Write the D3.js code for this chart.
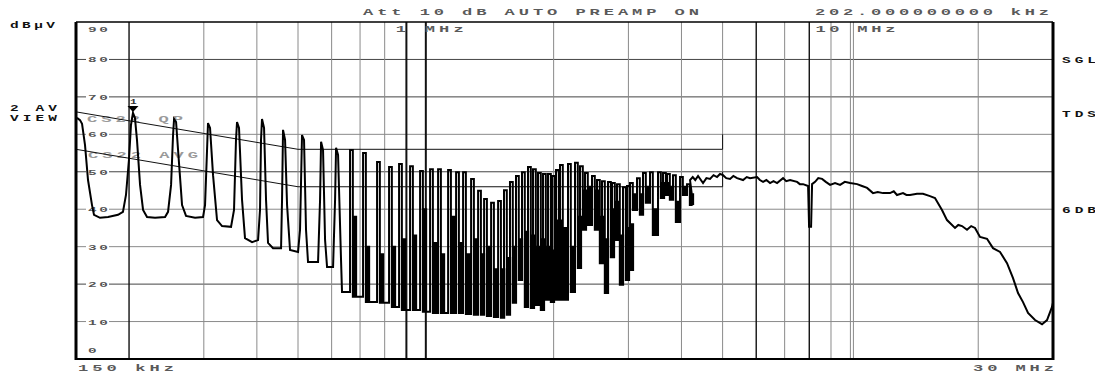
<!DOCTYPE html>
<html>
<head>
<meta charset="utf-8">
<script src="https://cdn.jsdelivr.net/npm/d3@7"></script>
<style>
  html, body { margin: 0; padding: 0; background: #fff; }
  svg { display: block; }
</style>
</head>
<body>
<svg id="chart"></svg>
<script>
'use strict';

// ── Data ──────────────────────────────────────────────────
const yTicks = [0, 10, 20, 30, 40, 50, 60, 70, 80, 90];
const xGrid  = [0.2, 0.3, 0.4, 0.5, 0.6, 0.7, 0.8, 0.9, 1, 2, 3, 4, 5, 6, 7, 8, 9, 10, 20];
const xDark  = [0.2, 0.9, 1, 6, 8];
const yDark  = [80, 70, 50, 20];

// CISPR 22 limit lines (MHz / dBµV)
const qpFreq   = [0.15, 0.5, 5, 5];
const qpLevel  = [66, 56, 56, 60];
const avgFreq  = [0.15, 0.5, 5, 5];
const avgLevel = [56, 46, 46, 50];

// trace, low band: [MHz, dBµV]
const lowTrace = [
  [0.1508,64.4],[0.1533,63.8],[0.1550,62.8],[0.1575,57.2],[0.1601,47.8],[0.1636,41.1],[0.1654,38.5],
  [0.1709,37.7],[0.1785,37.9],[0.1884,38.5],[0.1935,39.3],[0.1967,43.8],[0.1999,53.2],[0.2021,62.5],
  [0.2043,65.7],[0.2065,64.4],[0.2088,58.5],[0.2123,46.5],[0.2158,39.8],[0.2205,37.9],[0.2303,37.7],
  [0.2431,37.9],[0.2471,39.3],[0.2512,46.5],[0.2539,59.8],[0.2553,64.1],[0.2581,63.3],[0.2609,55.8],
  [0.2666,41.1],[0.2724,38.2],[0.2861,37.7],[0.2987,37.9],[0.3020,41.1],[0.3053,55.8],[0.3069,63.0],
  [0.3103,61.7],[0.3154,49.1],[0.3223,37.1],[0.3312,35.5],[0.3477,35.3],[0.3534,39.8],[0.3572,58.5],
  [0.3592,63.3],[0.3631,61.7],[0.3691,42.5],[0.3751,32.3],[0.3897,31.2],[0.4026,31.8],[0.4069,39.8],
  [0.4091,58.5],[0.4113,64.1],[0.4159,61.7],[0.4204,42.5],[0.4250,31.0],[0.4366,29.6],[0.4561,29.6],
  [0.4585,42.5],[0.4610,61.2],[0.4661,58.5],[0.4712,41.1],[0.4788,29.1],[0.5001,28.6],[0.5055,34.5],
  [0.5110,59.8],[0.5166,58.5],[0.5222,34.5],[0.5279,25.9],[0.5574,25.9],[0.5635,42.5],[0.5666,58.0],
  [0.5727,55.8],[0.5790,31.8],[0.5853,24.6],[0.6047,24.6],[0.6113,42.5],[0.6146,56.4],[0.6213,54.5],
  [0.6314,26.4],[0.6348,17.9],[0.6523,17.9]
];

// dense harmonic band: spike position, top, secondary level and the floor after it
const spikeFreq = [0.663,0.7115,0.7676,0.8192,0.8649,0.9181,0.9693,1.0233,1.0687,1.1284,1.1784,1.2239,
  1.2782,1.3277,1.3716,1.4247,1.4799,1.528,1.5784,1.6306,1.6846,1.7404,1.7882,1.8374,1.8879,1.9399,
  1.9823,2.0258,2.0702,2.1621,2.2457,2.3073,2.3708,2.4626,2.5303,2.5998,2.686,2.7448,2.8203,2.9135,
  2.9774,3.0263,3.1434,3.2474,3.3731,3.5229,3.6196,3.699,3.8213,3.9693,4.1229];
const spikePeak = [55.8,55.0,52.6,51.3,52.1,51.5,50.2,50.7,50.7,50.5,49.9,49.9,
  48.1,44.9,42.7,41.7,42.2,45.1,47.3,48.9,49.9,51.3,50.7,49.7,49.4,49.4,
  48.9,50.5,51.8,52.1,52.4,51.5,49.7,48.9,47.8,47.5,47.3,47.0,46.7,45.9,
  46.2,47.0,48.3,49.7,49.9,49.9,49.7,49.4,49.1,48.6,46.7];
const spikeMid = [38,30,28,30,32,33,40,31,28,38,31,28,
  32,28,30,24,24,27,30,32,34,33,30,32,30,29,
  37,37,35,30,38,45,46,45,38,32,40,42,33,35,
  36,44,44,46,40,47,47,46,42,46,44];
const spikeFloor = [16.6,15.2,15.0,13.9,13.1,13.1,12.6,12.3,12.3,12.3,12.3,12.0,
  11.8,11.8,11.5,11.2,11.0,11.8,15.0,21.1,13.9,13.6,14.4,13.1,15.8,15.2,
  15.8,15.8,15.8,17.9,24.3,34.5,35.8,34.5,25.6,17.6,27.2,31.8,19.8,21.1,
  23.8,39.8,38.5,41.7,33.1,43.0,43.8,42.5,36.6,43.8,41.1];

// trace, high band: [MHz, dBµV]
const highTrace = [
  [4.1906,47.8],[4.2520,48.6],[4.3110,47.8],[4.3766,48.9],[4.4967,47.0],[4.5800,48.3],[4.6707,48.1],
  [4.7600,49.1],[4.8515,48.6],[4.9300,49.4],[5.0120,49.1],[5.1000,48.3],[5.2061,48.1],[5.3000,48.9],
  [5.4076,48.3],[5.5865,47.8],[5.7000,48.6],[5.8028,48.3],[6.0273,48.6],[6.1200,47.8],[6.2268,47.3],
  [6.3400,47.8],[6.4677,47.0],[6.5900,47.5],[6.7180,47.0],[6.9403,48.3],[7.0600,47.5],[7.2090,47.8],
  [7.4880,47.3],[7.6000,46.7],[7.7358,46.7],[7.9490,46.2],[7.9916,35.3],[8.0789,35.3],[8.1228,46.7],
  [8.2562,47.3],[8.4000,48.3],[8.5756,48.1],[8.7500,47.3],[8.9561,46.5],[9.2000,47.0],[9.4554,46.5],
  [9.7000,47.3],[9.9825,47.0],[10.369,46.7],[10.650,46.2],[10.947,45.7],[11.302,44.3],[11.600,44.6],
  [11.932,44.3],[12.394,44.3],[12.650,44.8],[12.874,43.8],[13.300,44.3],[13.550,43.8],[13.814,43.8],
  [14.349,44.1],[14.824,44.1],[15.396,43.5],[15.819,43.0],[16.431,39.8],[16.883,37.1],[17.633,35.0],
  [17.950,35.8],[18.315,35.5],[18.818,34.5],[19.250,35.5],[19.654,35.0],[20.193,32.6],[20.975,32.1],
  [21.669,29.6],[22.508,28.6],[23.379,25.6],[24.153,21.6],[24.818,17.6],[25.498,15.2],[26.201,12.3],
  [27.214,10.4],[28.267,9.3],[29.044,10.4],[29.842,13.9],[30.0,15.0]
];

const markerFreq  = 0.2043;
const markerLevel = 65.7;

// ── Layout ────────────────────────────────────────────────
const W = 1095, H = 375;
const plot = { left: 76, right: 1053, top: 22, bottom: 359 };
const spikeW = 2.8, subGap = 1.8, subW = 1.5;
const FONT = '"Liberation Mono", "DejaVu Sans Mono", monospace';

const svg = d3.select('#chart').attr('width', W).attr('height', H);

const x = d3.scaleLog().domain([0.15, 30]).range([plot.left, plot.right]);
const y = d3.scaleLinear().domain([0, 90]).range([plot.bottom, plot.top]);

// wide, stretched bitmap-style text, fitted to a given width
function monoText(str, tx, ty, width, o = {}) {
  const fs = o.size || 9, sx = o.sx || 1.9;
  return svg.append('text')
    .attr('transform', `translate(${tx},${ty}) scale(${sx},1)`)
    .attr('font-family', FONT)
    .attr('font-size', fs)
    .attr('font-weight', o.weight || 700)
    .attr('textLength', width / sx)
    .attr('lengthAdjust', 'spacing')
    .attr('fill', o.color || '#5a5a5a')
    .text(str);
}

// ── Grid ──────────────────────────────────────────────────
const grid = svg.append('g');
yTicks.filter(v => v > 0 && v < 90).forEach(v => {
  grid.append('line')
    .attr('x1', plot.left).attr('x2', plot.right)
    .attr('y1', y(v)).attr('y2', y(v))
    .attr('stroke', yDark.includes(v) ? '#444' : '#8a8a8a')
    .attr('stroke-width', 1);
});
xGrid.forEach(f => {
  const dark = xDark.includes(f);
  grid.append('line')
    .attr('x1', x(f)).attr('x2', x(f))
    .attr('y1', plot.top).attr('y2', plot.bottom)
    .attr('stroke', dark ? '#111' : '#8a8a8a')
    .attr('stroke-width', f === 0.9 || f === 1 ? 2 : (dark ? 1.4 : 1));
});
// doubled line at 10 MHz
grid.append('line')
  .attr('x1', x(10) + 3).attr('x2', x(10) + 3)
  .attr('y1', plot.top).attr('y2', plot.bottom)
  .attr('stroke', '#8a8a8a');

// y tick labels inside the plot
yTicks.forEach(v => {
  let ty = y(v) + 3;
  if (v === 90) ty = y(v) + 10;
  if (v === 0) ty = y(v) - 6;
  if (v > 0 && v < 90) {
    svg.append('rect')
      .attr('x', plot.left + 10).attr('y', y(v) - 4)
      .attr('width', 23).attr('height', 8)
      .attr('fill', '#fff');
  }
  monoText(String(v), plot.left + 12, ty, 20, { size: 8, sx: 1.8, color: '#555' });
});

// ── Limit lines ───────────────────────────────────────────
monoText('CS22 QP', 87, 122, 96, { color: '#9a9a9a' });
monoText('CS22 AVG', 88, 158, 110, { color: '#9a9a9a' });

const lim = d3.line().x(d => x(d[0])).y(d => y(d[1]));
svg.append('path')
  .attr('d', lim(d3.zip(qpFreq, qpLevel)))
  .attr('fill', 'none').attr('stroke', '#111').attr('stroke-width', 1);
svg.append('path')
  .attr('d', lim(d3.zip(avgFreq, avgLevel)))
  .attr('fill', 'none').attr('stroke', '#111').attr('stroke-width', 1);

// ── Trace ─────────────────────────────────────────────────
const pts = lowTrace.map(d => [x(d[0]), y(d[1])]);
let prevFloor = lowTrace[lowTrace.length - 1][1];
spikeFreq.forEach((f, i) => {
  const sx = x(f), fl = y(spikeFloor[i]);
  pts.push([sx, y(prevFloor)]);
  pts.push([sx, y(spikePeak[i])]);
  pts.push([sx + spikeW, y(spikePeak[i])]);
  pts.push([sx + spikeW, fl]);
  pts.push([sx + spikeW + subGap, fl]);
  pts.push([sx + spikeW + subGap, y(spikeMid[i])]);
  pts.push([sx + spikeW + subGap + subW, y(spikeMid[i])]);
  pts.push([sx + spikeW + subGap + subW, fl]);
  prevFloor = spikeFloor[i];
});
highTrace.forEach(d => pts.push([x(d[0]), y(d[1])]));

svg.append('path')
  .attr('d', d3.line()(pts))
  .attr('fill', 'none')
  .attr('stroke', '#000')
  .attr('stroke-width', 2)
  .attr('stroke-linejoin', 'miter');

// marker 1
const mx = x(markerFreq), my = y(markerLevel);
svg.append('path')
  .attr('d', `M${mx - 5.5},${my - 7}L${mx + 5.5},${my - 7}L${mx},${my - 1}Z`)
  .attr('fill', '#000');
monoText('1', mx - 3, my - 9, 8, { size: 8, sx: 1.4, color: '#333' });

// ── Frame ─────────────────────────────────────────────────
svg.append('line').attr('x1', plot.left).attr('x2', plot.right)
  .attr('y1', plot.top).attr('y2', plot.top).attr('stroke', '#000').attr('stroke-width', 1.5);
svg.append('line').attr('x1', plot.left).attr('x2', plot.right)
  .attr('y1', plot.bottom).attr('y2', plot.bottom).attr('stroke', '#000').attr('stroke-width', 2);
svg.append('line').attr('x1', plot.left).attr('x2', plot.left)
  .attr('y1', plot.top).attr('y2', plot.bottom + 1).attr('stroke', '#000').attr('stroke-width', 3);
svg.append('line').attr('x1', plot.right).attr('x2', plot.right)
  .attr('y1', plot.top).attr('y2', plot.bottom + 1).attr('stroke', '#000').attr('stroke-width', 3);

// ── Texts ─────────────────────────────────────────────────
monoText('Att 10 dB AUTO  PREAMP ON', 363, 15, 336);
monoText('202.000000000 kHz', 815, 15, 234);
monoText('1 MHz', x(1) - 30, 32, 68);
monoText('10 MHz', x(10) - 35, 32, 80);
monoText('150 kHz', plot.left + 2, 371, 96);
monoText('30 MHz', plot.right - 80, 371, 81);

monoText('dB\u00b5V', 10, 28, 45, { color: '#111', size: 8.5, sx: 1.7 });
monoText('2 AV', 10, 111, 47, { color: '#111', size: 8.5, sx: 1.7 });
monoText('VIEW', 10, 121, 47, { color: '#111', size: 8.5, sx: 1.7 });
monoText('SGL', 1062, 63, 34, { color: '#111', size: 8.5, sx: 1.7 });
monoText('TDS', 1062, 117, 34, { color: '#111', size: 8.5, sx: 1.7 });
monoText('6DB', 1062, 213, 34, { color: '#111', size: 8.5, sx: 1.7 });
</script>
</body>
</html>
